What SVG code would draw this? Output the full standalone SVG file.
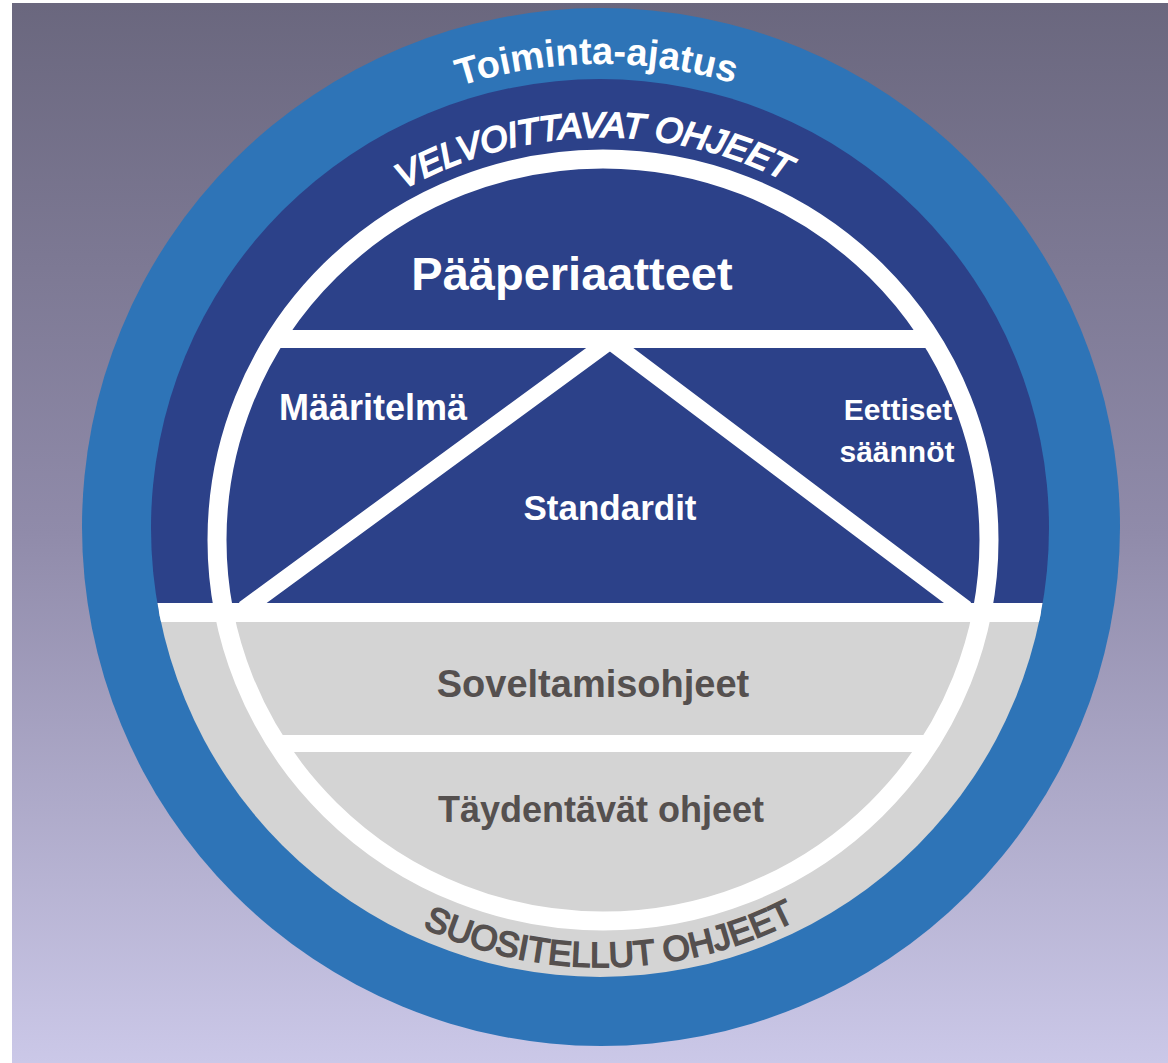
<svg xmlns="http://www.w3.org/2000/svg" width="1168" height="1063" viewBox="0 0 1168 1063">
  <defs>
    <linearGradient id="bg" x1="0" y1="0" x2="0" y2="1">
      <stop offset="0" stop-color="#6a677e"/>
      <stop offset="0.5" stop-color="#908baa"/>
      <stop offset="1" stop-color="#cbc8e8"/>
    </linearGradient>
    <clipPath id="innerClip"><circle cx="600" cy="528" r="449"/></clipPath>
    <clipPath id="ringClip"><ellipse cx="603" cy="540" rx="386" ry="381"/></clipPath>
    <path id="arcTop" d="M138,527 A463,463 0 0 1 1064,527"/>
    <path id="arcVel" d="M199,540 A403,403 0 0 1 1005,540"/>
    <path id="arcSuo" d="M175,540 A427,427 0 0 0 1029,540"/>
    <style>
      .t { font-family: "Liberation Sans", Arial, sans-serif; font-weight: bold; }
      .m { font-family: "Liberation Sans", Arial, sans-serif; }
      .w { fill: #ffffff; }
      .g { fill: #55504f; }
      .div { fill: #ffffff; }
      .diag { stroke: #ffffff; stroke-width: 17; fill: none; stroke-linejoin: miter; }
    </style>
  </defs>

  <rect x="0" y="0" width="1168" height="1063" fill="#ffffff"/>
  <rect x="12" y="3" width="1156" height="1060" fill="url(#bg)"/>

  <g id="toiminta-ajatus">
    <circle cx="601" cy="527" r="519" fill="#2e74b7"/>
    <text class="t w" font-size="38"><textPath href="#arcTop" startOffset="49.7%" text-anchor="middle">Toiminta-ajatus</textPath></text>
  </g>

  <g id="core" clip-path="url(#innerClip)">
    <rect x="140" y="70" width="920" height="545" fill="#2c4189"/>
    <rect x="140" y="612" width="920" height="380" fill="#d4d4d4"/>
  </g>

  <g id="velvoittavat-ohjeet">
    <text class="m w" font-style="italic" font-size="35" stroke="#ffffff" stroke-width="1.9"><textPath href="#arcVel" startOffset="49.3%" text-anchor="middle">VELVOITTAVAT OHJEET</textPath></text>
  </g>

  <g id="suositellut-ohjeet">
    <text class="m g" font-size="35" stroke="#55504f" stroke-width="1.7"><textPath href="#arcSuo" startOffset="50.6%" text-anchor="middle">SUOSITELLUT OHJEET</textPath></text>
  </g>

  <g id="connectors">
    <rect class="div" x="140" y="603" width="920" height="19" clip-path="url(#innerClip)"/>
    <ellipse cx="603" cy="540" rx="386" ry="381" fill="none" stroke="#ffffff" stroke-width="19"/>
    <g clip-path="url(#ringClip)">
      <rect class="div" x="200" y="330" width="810" height="18"/>
      <rect class="div" x="200" y="735" width="810" height="17"/>
      <polyline class="diag" points="244,609 610,341 966,609"/>
    </g>
  </g>

  <g id="paaperiaatteet">
    <text class="t w" x="572" y="290" font-size="47" text-anchor="middle">Pääperiaatteet</text>
  </g>
  <g id="maaritelma">
    <text class="t w" x="373" y="420" font-size="36" text-anchor="middle">Määritelmä</text>
  </g>
  <g id="eettiset-saannot">
    <text class="t w" x="898" y="420" font-size="30" text-anchor="middle">Eettiset</text>
    <text class="t w" x="897" y="462" font-size="30" text-anchor="middle">säännöt</text>
  </g>
  <g id="standardit">
    <text class="t w" x="610" y="520" font-size="35" text-anchor="middle">Standardit</text>
  </g>
  <g id="soveltamisohjeet">
    <text class="t g" x="593" y="697" font-size="38" text-anchor="middle">Soveltamisohjeet</text>
  </g>
  <g id="taydentavat-ohjeet">
    <text class="t g" x="601" y="822" font-size="36" text-anchor="middle">Täydentävät ohjeet</text>
  </g>
</svg>
